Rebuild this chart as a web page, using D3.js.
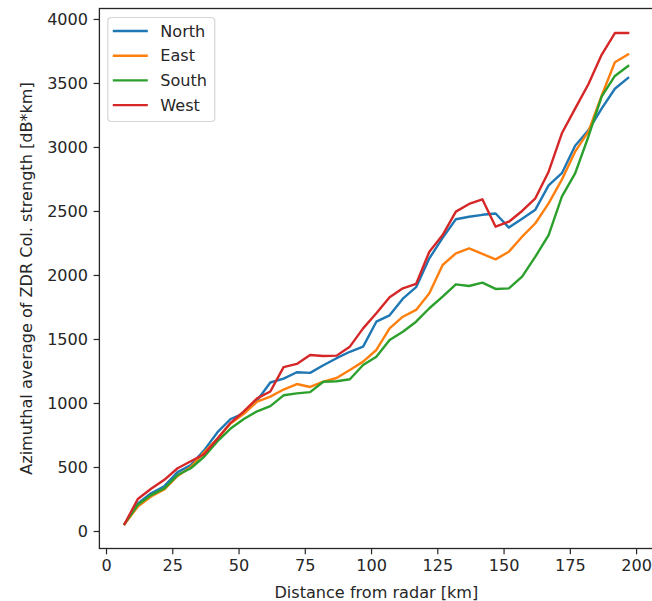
<!DOCTYPE html>
<html>
<head>
<meta charset="utf-8">
<script src="https://cdn.jsdelivr.net/npm/d3@7"></script>
<style>
  body { margin: 0; background: #fff; }
  text { font-family: "DejaVu Sans", sans-serif; fill: #262626; }
</style>
</head>
<body>
<svg id="chart" width="652" height="601"></svg>
<script>
// distance from radar [km]
const distance = [7, 12, 17, 22, 27, 32, 37, 42, 47, 52, 57, 62, 67, 72, 77, 82, 87, 92, 97, 102,
  107, 112, 117, 122, 127, 132, 137, 142, 147, 152, 157, 162, 167, 172, 177, 182, 187, 192, 197];

// azimuthal average of ZDR column strength [dB*km]
const north = [55, 215, 295, 350, 460, 515, 630, 770, 875, 920, 1020, 1160, 1190, 1240, 1235, 1295, 1350, 1400, 1440, 1635,
  1685, 1815, 1905, 2130, 2290, 2435, 2455, 2470, 2480, 2370, 2440, 2510, 2700, 2795, 3010, 3130, 3300, 3455, 3540];
const east = [55, 190, 270, 325, 430, 500, 615, 720, 840, 915, 1010, 1050, 1105, 1148, 1125, 1167, 1195, 1258, 1323, 1414,
  1583, 1674, 1727, 1857, 2078, 2169, 2208, 2165, 2122, 2182, 2299, 2404, 2560, 2745, 2963, 3120, 3400, 3662, 3724];
const south = [55, 205, 280, 333, 437, 490, 580, 700, 800, 875, 935, 975, 1060, 1075, 1085, 1166, 1170, 1185, 1297, 1362,
  1492, 1557, 1635, 1740, 1831, 1927, 1914, 1940, 1891, 1895, 1987, 2143, 2312, 2612, 2794, 3080, 3393, 3555, 3633];
const west = [55, 250, 330, 400, 490, 545, 600, 720, 845, 935, 1036, 1090, 1280, 1305, 1375, 1367, 1370, 1440, 1583, 1701,
  1826, 1896, 1930, 2182, 2312, 2495, 2555, 2591, 2377, 2416, 2500, 2599, 2807, 3107, 3300, 3490, 3720, 3890, 3890];

const seriesNames = ["North", "East", "South", "West"];
const seriesValues = [north, east, south, west];
const seriesColors = ["#1f77b4", "#ff7f0e", "#2ca02c", "#d62728"];

const xTicks = [0, 25, 50, 75, 100, 125, 150, 175, 200];
const yTicks = [0, 500, 1000, 1500, 2000, 2500, 3000, 3500, 4000];

const fontSize = 16.1;
const plot = { left: 99.4, right: 653.3, top: 8.5, bottom: 548.5 };

const svg = d3.select("#chart");

const x = d3.scaleLinear().domain([-2.5, 206.5]).range([plot.left, plot.right]);
const y = d3.scaleLinear().domain([-136.75, 4081.75]).range([plot.bottom, plot.top]);

svg.append("clipPath").attr("id", "clip")
  .append("rect")
  .attr("x", plot.left).attr("y", plot.top)
  .attr("width", plot.right - plot.left).attr("height", plot.bottom - plot.top);

// lines
const line = d3.line().x((d, i) => x(distance[i])).y(d => y(d));
svg.append("g")
  .attr("clip-path", "url(#clip)")
  .selectAll("path")
  .data(seriesValues)
  .join("path")
  .attr("d", d => line(d))
  .attr("fill", "none")
  .attr("stroke", (d, i) => seriesColors[i])
  .attr("stroke-width", 2.4)
  .attr("stroke-linejoin", "round")
  .attr("stroke-linecap", "square");

// axes
const xAxis = svg.append("g")
  .attr("transform", `translate(0,${plot.bottom})`)
  .call(d3.axisBottom(x).tickValues(xTicks).tickFormat(d3.format("d")).tickSize(5.8).tickPadding(5.5));
const yAxis = svg.append("g")
  .attr("transform", `translate(${plot.left},0)`)
  .call(d3.axisLeft(y).tickValues(yTicks).tickFormat(d3.format("d")).tickSize(5.8).tickPadding(5.5));

[xAxis, yAxis].forEach(g => {
  g.select(".domain").remove();
  g.selectAll(".tick line").attr("stroke", "#262626").attr("stroke-width", 1.2);
  g.selectAll(".tick text").attr("font-size", fontSize).attr("font-family", "DejaVu Sans").attr("fill", "#262626");
});

// spines
svg.append("rect")
  .attr("x", plot.left).attr("y", plot.top)
  .attr("width", plot.right - plot.left).attr("height", plot.bottom - plot.top)
  .attr("fill", "none").attr("stroke", "#262626").attr("stroke-width", 1.3);

// axis labels
svg.append("text")
  .attr("x", (plot.left + plot.right) / 2)
  .attr("y", 598)
  .attr("text-anchor", "middle")
  .attr("font-size", fontSize)
  .text("Distance from radar [km]");

svg.append("text")
  .attr("transform", `translate(32,${(plot.top + plot.bottom) / 2}) rotate(-90)`)
  .attr("text-anchor", "middle")
  .attr("font-size", fontSize)
  .text("Azimuthal average of ZDR Col. strength [dB*km]");

// legend
const legend = svg.append("g").attr("transform", "translate(107.8,17.5)");
legend.append("rect")
  .attr("width", 107).attr("height", 104)
  .attr("rx", 3.5)
  .attr("fill", "#fff").attr("fill-opacity", 0.8)
  .attr("stroke", "#d6d6d6").attr("stroke-width", 1.2);

const rows = legend.selectAll("g.row")
  .data(seriesNames)
  .join("g")
  .attr("class", "row")
  .attr("transform", (d, i) => `translate(0,${13.5 + i * 24.7})`);
rows.append("line")
  .attr("x1", 5).attr("x2", 40)
  .attr("stroke", (d, i) => seriesColors[i])
  .attr("stroke-width", 2.4);
rows.append("text")
  .attr("x", 52.5)
  .attr("dy", "0.36em")
  .attr("font-size", fontSize)
  .text(d => d);
</script>
</body>
</html>
